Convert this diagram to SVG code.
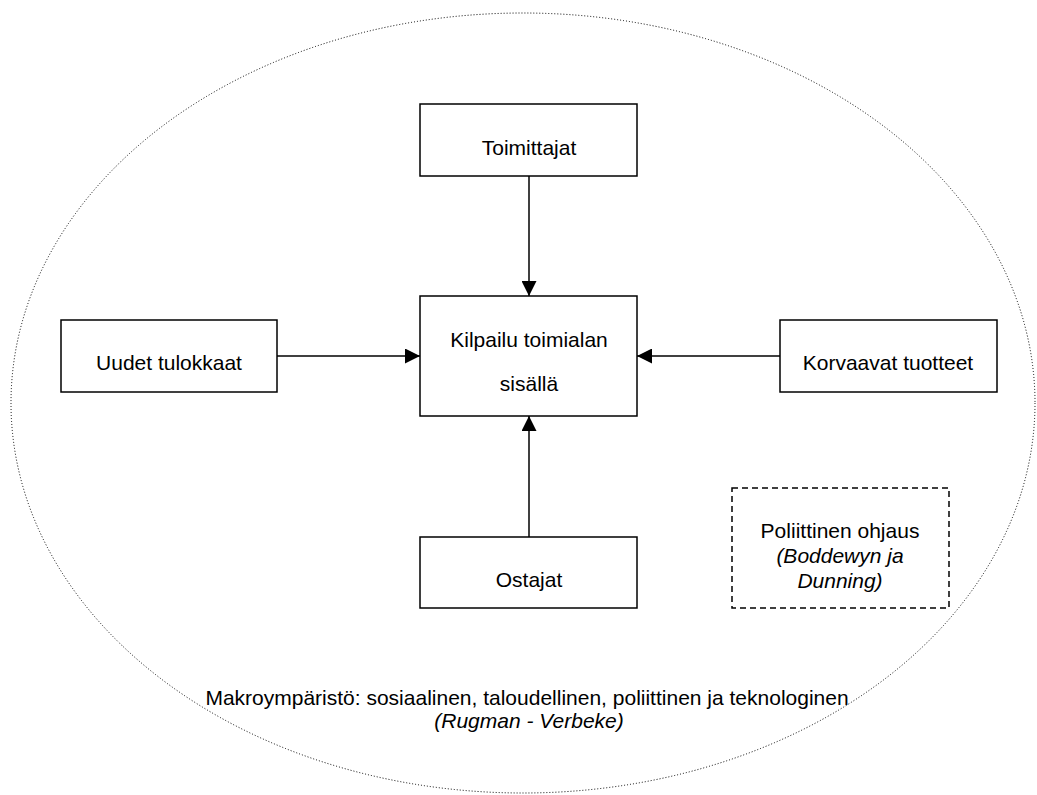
<svg xmlns="http://www.w3.org/2000/svg" width="1037" height="795" viewBox="0 0 1037 795">
<style>
.box{fill:#fff;stroke:#000;stroke-width:1.5}
.dash{fill:#fff;stroke:#000;stroke-width:1.5;stroke-dasharray:6,4}
.t{font-family:"Liberation Sans",Arial,sans-serif;font-size:21px;fill:#000;text-anchor:middle}
.i{font-style:italic}
.c{stroke:#000;stroke-width:1.5;fill:none}
</style>
<defs>
<marker id="ah" viewBox="0 0 15 15" refX="15" refY="7.5" markerWidth="15" markerHeight="15" markerUnits="userSpaceOnUse" orient="auto">
<path d="M0,0 L15,7.5 L0,15 Z" fill="#000"/>
</marker>
</defs>
<rect width="1037" height="795" fill="#fff"/>
<g id="environment">
<ellipse cx="523" cy="403" rx="512" ry="390" fill="none" stroke="#000" stroke-width="1" stroke-dasharray="1,2"/>
<text class="t" x="527" y="705">Makroympäristö: sosiaalinen, taloudellinen, poliittinen ja teknologinen</text>
<text class="t i" x="529" y="728">(Rugman - Verbeke)</text>
</g>
<g id="connectors">
<line class="c" x1="529" y1="176" x2="529" y2="296" marker-end="url(#ah)"/>
<line class="c" x1="277" y1="356" x2="420" y2="356" marker-end="url(#ah)"/>
<line class="c" x1="780" y1="356" x2="637" y2="356" marker-end="url(#ah)"/>
<line class="c" x1="529" y1="537" x2="529" y2="416" marker-end="url(#ah)"/>
</g>
<g id="toimittajat">
<rect class="box" x="420" y="104" width="217" height="72"/>
<text class="t" x="529" y="155">Toimittajat</text>
</g>
<g id="kilpailu">
<rect class="box" x="420" y="296" width="217" height="120"/>
<text class="t" x="529" y="347">Kilpailu toimialan</text>
<text class="t" x="529" y="391">sisällä</text>
</g>
<g id="uudet">
<rect class="box" x="61" y="320" width="216" height="72"/>
<text class="t" x="169" y="370">Uudet tulokkaat</text>
</g>
<g id="korvaavat">
<rect class="box" x="780" y="320" width="217" height="72"/>
<text class="t" x="888" y="370">Korvaavat tuotteet</text>
</g>
<g id="ostajat">
<rect class="box" x="420" y="537" width="217" height="71"/>
<text class="t" x="529" y="587">Ostajat</text>
</g>
<g id="poliittinen">
<rect class="dash" x="732" y="488" width="217" height="120"/>
<text class="t" x="840" y="538">Poliittinen ohjaus</text>
<text class="t i" x="840" y="563">(Boddewyn ja</text>
<text class="t i" x="840" y="588">Dunning)</text>
</g>
</svg>
